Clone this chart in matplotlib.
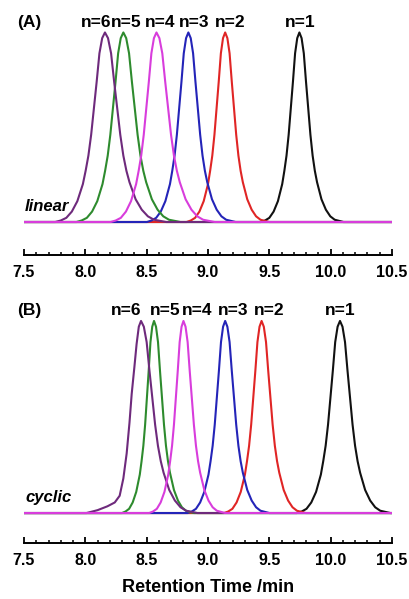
import matplotlib.pyplot as plt
import numpy as np
from matplotlib.ticker import MultipleLocator

plt.rcParams['font.family'] = ['Liberation Sans', 'DejaVu Sans']
plt.rcParams['font.weight'] = 'bold'

# shared peak shape (offset in peak widths, relative height)
left_off = [-4.5, -4.0, -3.5, -3.0, -2.5, -2.0, -1.75, -1.5, -1.25, -1.0, -0.75, -0.5, -0.25, 0.0]
left_h = [0.0, 0.008, 0.022, 0.055, 0.11, 0.2, 0.27, 0.35, 0.46, 0.6, 0.74, 0.89, 0.97, 1.0]
right_off = [0.25, 0.5, 0.75, 1.0, 1.25, 1.5, 1.75, 2.0, 2.5, 3.0, 3.5, 4.0, 5.0]
right_h = [0.97, 0.89, 0.74, 0.6, 0.46, 0.35, 0.27, 0.21, 0.12, 0.065, 0.03, 0.012, 0.0]

labels = ['n=1', 'n=2', 'n=3', 'n=4', 'n=5', 'n=6']
colors = ['#111111', '#e02525', '#2424b8', '#d83ddc', '#2e8b2e', '#6e2a7c']

# (A) linear
lin_center = [9.745, 9.14, 8.84, 8.58, 8.31, 8.16]
lin_wl = [0.070, 0.070, 0.075, 0.083, 0.085, 0.090]
lin_wr = [0.072, 0.072, 0.077, 0.095, 0.093, 0.100]
lin_label_x = [9.75, 9.18, 8.888, 8.61, 8.337, 8.09]

# (B) cyclic
cyc_center = [10.076, 9.437, 9.14, 8.80, 8.56, 8.454]
cyc_wl = [0.078, 0.068, 0.068, 0.062, 0.058, 0.077]
cyc_wr = [0.082, 0.072, 0.072, 0.068, 0.065, 0.092]
cyc_label_x = [10.076, 9.50, 9.206, 8.908, 8.65, 8.33]

# n=6 cyclic has a shoulder on its front side
shoulder_t = [8.01, 8.10, 8.18, 8.24, 8.28, 8.31, 8.337, 8.36, 8.378, 8.40, 8.418, 8.436, 8.454]
shoulder_h = [0.0, 0.015, 0.035, 0.055, 0.09, 0.18, 0.31, 0.47, 0.62, 0.76, 0.88, 0.97, 1.0]


def trace(c, wl, wr, front=None):
    if front is None:
        xl = [c + o * wl for o in left_off]
        yl = list(left_h)
    else:
        xl, yl = list(front[0]), list(front[1])
    xr = [c + o * wr for o in right_off]
    x = [7.5] + xl + xr + [10.5]
    y = [0.0] + yl + right_h + [0.0]
    return x, y


fig = plt.figure(figsize=(4.10, 5.99), dpi=100)
axA = fig.add_axes([0.0585, 0.5743, 0.8976, 0.4174])
axB = fig.add_axes([0.0585, 0.0935, 0.8976, 0.4140])

panels = [
    (axA, lin_center, lin_wl, lin_wr, lin_label_x, '(A)', 'linear', (-0.174, 1.145)),
    (axB, cyc_center, cyc_wl, cyc_wr, cyc_label_x, '(B)', 'cyclic', (-0.156, 1.135)),
]

for ax, cen, wl, wr, lx, tag, kind, ylim in panels:
    order = [0, 1, 2, 4, 5, 3]
    for i in order:
        front = None
        if kind == 'cyclic' and i == 5:
            front = (shoulder_t, shoulder_h)
        x, y = trace(cen[i], wl[i], wr[i], front)
        ax.plot(x, y, color=colors[i], lw=1.5, solid_joinstyle='round')
        ax.text(lx[i], 1.055, labels[i], ha='center', va='center',
                fontsize=12.5, fontweight='bold', clip_on=False)
    ax.text(7.443, 1.055, tag, ha='left', va='center', fontsize=12.5,
            fontweight='bold', clip_on=False)
    ax.text(7.51, 0.08, kind, ha='left', va='center', fontsize=12,
            fontweight='bold', fontstyle='italic')

    ax.set_xlim(7.5, 10.5)
    ax.set_ylim(*ylim)
    for s in ['left', 'right', 'top']:
        ax.spines[s].set_visible(False)
    ax.spines['bottom'].set_linewidth(1.4)
    ax.set_yticks([])
    ax.xaxis.set_major_locator(MultipleLocator(0.5))
    ax.xaxis.set_minor_locator(MultipleLocator(0.1))
    ax.tick_params(axis='x', which='major', direction='in', length=4, width=1.3,
                   labelsize=11.5, pad=7)
    ax.tick_params(axis='x', which='minor', direction='in', length=2, width=1.1)
    ax.set_xticks(np.arange(7.5, 10.51, 0.5))
    ax.set_xticklabels([f'{v:.1f}' for v in np.arange(7.5, 10.51, 0.5)], fontweight='bold')

axB.set_xlabel('Retention Time /min', fontsize=13, fontweight='bold', labelpad=8)

fig.savefig('out.png', dpi=100)
